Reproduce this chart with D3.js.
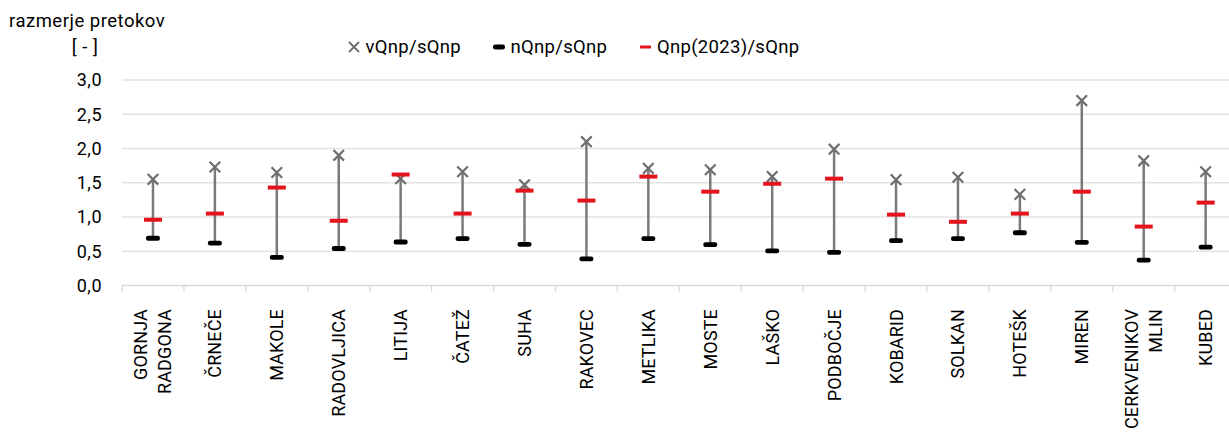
<!DOCTYPE html>
<html>
<head>
<meta charset="utf-8">
<script src="https://cdn.jsdelivr.net/npm/d3@7"></script>
<style>
  html, body { margin: 0; padding: 0; background: #fff; }
  svg { display: block; font-family: Roboto, "Noto Sans", sans-serif; }
</style>
</head>
<body>
<svg id="chart" width="1229" height="433"></svg>
<script>
const categories = [
  ["GORNJA", "RADGONA"], ["ČRNEČE"], ["MAKOLE"], ["RADOVLJICA"], ["LITIJA"], ["ČATEŽ"],
  ["SUHA"], ["RAKOVEC"], ["METLIKA"], ["MOSTE"], ["LAŠKO"], ["PODBOČJE"],
  ["KOBARID"], ["SOLKAN"], ["HOTEŠK"], ["MIREN"], ["CERKVENIKOV", "MLIN"], ["KUBED"]
];
const vQnp = [1.55, 1.73, 1.65, 1.90, 1.56, 1.66, 1.47, 2.10, 1.71, 1.69, 1.59, 1.99, 1.545, 1.58, 1.33, 2.70, 1.82, 1.66];
const nQnp = [0.69, 0.62, 0.41, 0.54, 0.635, 0.685, 0.60, 0.39, 0.685, 0.596, 0.505, 0.485, 0.655, 0.685, 0.77, 0.63, 0.37, 0.56];
const q2023 = [0.96, 1.05, 1.43, 0.945, 1.62, 1.05, 1.385, 1.24, 1.59, 1.37, 1.485, 1.56, 1.035, 0.93, 1.05, 1.37, 0.86, 1.21];
const yTicks = [0, 0.5, 1.0, 1.5, 2.0, 2.5, 3.0];
const legendLabels = ["vQnp/sQnp", "nQnp/sQnp", "Qnp(2023)/sQnp"];
const yTitle = "razmerje pretokov";
const yUnit = "[ - ]";

(function () {
const svg = d3.select("#chart");
const pLeft = 122, pRight = 1236.6, pTop = 80, pBottom = 285.5;
const idx = d3.range(categories.length);

const x = d3.scaleBand().domain(idx).range([pLeft, pRight]).padding(0);
const y = d3.scaleLinear().domain([0, 3]).range([pBottom, pTop]);
const cx = i => x(i) + x.bandwidth() / 2;

// gridlines
svg.append("g").selectAll("line").data(yTicks.filter(d => d > 0)).join("line")
  .attr("x1", pLeft).attr("x2", 1229)
  .attr("y1", d => y(d)).attr("y2", d => y(d))
  .attr("stroke", "#e3e3e3").attr("stroke-width", 1.5);

// x axis
const xAxis = svg.append("g").attr("transform", `translate(0,${pBottom})`);
xAxis.append("line").attr("x1", pLeft).attr("x2", 1229).attr("y1", 0).attr("y2", 0)
  .attr("stroke", "#d9d9d9").attr("stroke-width", 1.5);
xAxis.selectAll("line.tk").data(d3.range(categories.length + 1)).join("line")
  .attr("class", "tk")
  .attr("x1", i => pLeft + i * x.bandwidth()).attr("x2", i => pLeft + i * x.bandwidth())
  .attr("y1", 0).attr("y2", 6)
  .attr("stroke", "#d9d9d9").attr("stroke-width", 1.3);

// x labels (rotated)
const lab = svg.append("g");
idx.forEach(i => {
  const lines = categories[i];
  const n = lines.length;
  const lh = 24;
  lines.forEach((t, k) => {
    const off = (k - (n - 1) / 2) * lh;
    lab.append("text")
      .attr("transform", `translate(${cx(i) + off + 6.5},${309}) rotate(-90)`)
      .attr("text-anchor", "end")
      .attr("font-size", 18)
      .attr("letter-spacing", 0.15)
      .attr("fill", "#000")
      .text(t);
  });
});

// y axis labels
svg.append("g").selectAll("text").data(yTicks).join("text")
  .attr("x", 102).attr("y", d => y(d) + 6.3)
  .attr("text-anchor", "end").attr("font-size", 18).attr("letter-spacing", 0.5).attr("fill", "#000")
  .text(d => d3.format(".1f")(d).replace(".", ","));

svg.append("text").attr("x", 9).attr("y", 27).attr("font-size", 18.5).attr("letter-spacing", 0.5).attr("fill", "#000").text(yTitle);
svg.append("text").attr("x", 85).attr("y", 53).attr("text-anchor", "middle").attr("font-size", 18.5).attr("letter-spacing", 0.5).attr("fill", "#000").text(yUnit);

// range lines
svg.append("g").selectAll("line").data(idx).join("line")
  .attr("x1", cx).attr("x2", cx)
  .attr("y1", i => y(nQnp[i])).attr("y2", i => y(vQnp[i]))
  .attr("stroke", "#7a7a7a").attr("stroke-width", 2.5);

// max X markers
const xs = 5.3;
svg.append("g").selectAll("path").data(idx).join("path")
  .attr("d", i => {
    const a = cx(i), b = y(vQnp[i]);
    return `M${a - xs},${b - xs}L${a + xs},${b + xs}M${a - xs},${b + xs}L${a + xs},${b - xs}`;
  })
  .attr("stroke", "#6e6e6e").attr("stroke-width", 2.2).attr("fill", "none");

// min black bars
svg.append("g").selectAll("rect").data(idx).join("rect")
  .attr("x", i => cx(i) - 7).attr("y", i => y(nQnp[i]) - 2.4)
  .attr("width", 14).attr("height", 4.8).attr("rx", 2.2)
  .attr("fill", "#000");

// red 2023 bars
svg.append("g").selectAll("rect").data(idx).join("rect")
  .attr("x", i => cx(i) - 9).attr("y", i => y(q2023[i]) - 2)
  .attr("width", 18).attr("height", 4)
  .attr("fill", "#e3141b");

// legend
const lg = svg.append("g");
const ly = 47;
lg.append("path").attr("d", `M${349},${ly - 5}L${359},${ly + 5}M${349},${ly + 5}L${359},${ly - 5}`)
  .attr("stroke", "#6e6e6e").attr("stroke-width", 1.8);
lg.append("text").attr("x", 365.5).attr("y", 53).attr("font-size", 18.5).attr("letter-spacing", 0.3).text(legendLabels[0]);
lg.append("rect").attr("x", 493).attr("y", ly - 2.5).attr("width", 12).attr("height", 5).attr("rx", 2.2).attr("fill", "#000");
lg.append("text").attr("x", 510.5).attr("y", 53).attr("font-size", 18.5).attr("letter-spacing", 0.3).text(legendLabels[1]);
lg.append("rect").attr("x", 640).attr("y", ly - 1.5).attr("width", 11).attr("height", 3).attr("fill", "#e3141b");
lg.append("text").attr("x", 657).attr("y", 53).attr("font-size", 18.5).attr("letter-spacing", 0.3).text(legendLabels[2]);
})();
</script>
</body>
</html>
